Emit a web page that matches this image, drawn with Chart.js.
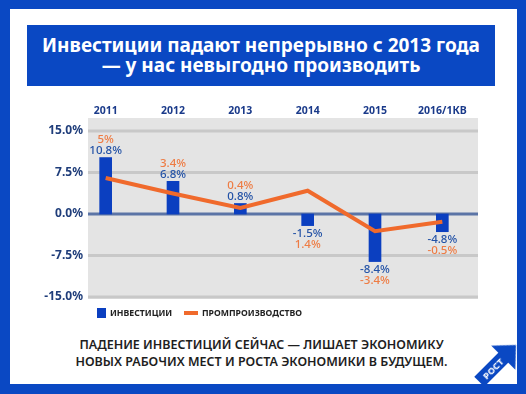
<!DOCTYPE html>
<html lang="ru">
<head>
<meta charset="UTF-8">
<title>Инвестиции и промпроизводство</title>
<script src="https://cdn.jsdelivr.net/npm/chart.js"></script>
<style>
  body { margin: 0; width: 526px; height: 394px; background: #0a48c3; position: relative; overflow: hidden; font-family: "Noto Sans", sans-serif; }
  #panel { position: absolute; left: 10px; top: 9px; width: 507px; height: 375px; background: #fff; }
  #title { position: absolute; left: 27px; top: 25px; width: 468px; height: 61px; background: #0a48c3; color: #fff;
           font-weight: 700; font-size: 19px; line-height: 20px; text-align: center; box-sizing: border-box; padding-top: 10px; }
  #wrap { position: absolute; left: 0; top: 95px; width: 526px; height: 215px; }
  .leg { position: absolute; top: 308px; font-size: 8.7px; font-weight: 700; color: #222; line-height: 10px; }
  #note { position: absolute; left: 10px; top: 336px; width: 503px; text-align: center; font-size: 12.5px; font-weight: 600;
          line-height: 17px; color: #1e1e1e; }
  #logo { position: absolute; left: 0; top: 0; }
</style>
</head>
<body>
<div id="panel"></div>
<div id="title">Инвестиции падают непрерывно с 2013 года<br>— у нас невыгодно производить</div>
<div id="wrap"><canvas id="grafico"></canvas></div>
<div class="leg" style="left:97px;"><span style="display:inline-block;width:9px;height:10px;background:#0b3fc0;vertical-align:top;"></span></div>
<div class="leg" style="left:110px;">ИНВЕСТИЦИИ</div>
<div class="leg" style="left:184px;"><span style="display:inline-block;width:14px;height:4px;background:#f06a2c;margin-top:3px;vertical-align:top;"></span></div>
<div class="leg" style="left:202px;">ПРОМПРОИЗВОДСТВО</div>
<div id="note">ПАДЕНИЕ ИНВЕСТИЦИЙ СЕЙЧАС — ЛИШАЕТ ЭКОНОМИКУ<br>НОВЫХ РАБОЧИХ МЕСТ И РОСТА ЭКОНОМИКИ В БУДУЩЕМ.</div>
<svg id="logo" width="526" height="394">
  <g transform="translate(516,345) rotate(-45)">
    <polygon points="0,0 -18,-17 -18,17" fill="#0a48c3"/>
    <rect x="-52" y="-7" width="37" height="14" fill="#0a48c3"/>
    <text x="-33" y="3.5" fill="#fff" font-size="9.5" font-weight="700" text-anchor="middle" font-family="Noto Sans">РОСТ</text>
  </g>
</svg>

<script>
  const anios = ["2011", "2012", "2013", "2014", "2015", "2016/1КВ"];
  // высота столбиков и точки линии, как нарисовано
  const inversiones = [10.2, 5.9, 1.9, -2.1, -8.6, -3.2];
  const produccion = [6.5, 3.7, 1.1, 4.2, -3.1, -1.4];
  // подписи, как на картинке
  const etiquetasInv = ["10.8%", "6.8%", "0.8%", "-1.5%", "-8.4%", "-4.8%"];
  const etiquetasProd = ["5%", "3.4%", "0.4%", "1.4%", "-3.4%", "-0.5%"];
  const ticksY = [15, 7.5, 0, -7.5, -15];

  const fondo = {
    id: 'fondo',
    beforeDatasetsDraw(chart) {
      const { ctx, chartArea, scales } = chart;
      const x0 = chartArea.left + 16, x1 = chartArea.right + 2;
      ctx.save();
      ctx.fillStyle = '#e4e4e4';
      ctx.fillRect(x0, chartArea.top - 13, x1 - x0, chartArea.bottom - chartArea.top + 15);
      ticksY.forEach(v => {
        const y = scales.y.getPixelForValue(v);
        ctx.strokeStyle = v === 0 ? '#5b74a6' : '#c8c8c8';
        ctx.lineWidth = 3;
        ctx.beginPath();
        ctx.moveTo(x0, y);
        ctx.lineTo(x1, y);
        ctx.stroke();
      });
      // подписи оси Y
      ctx.font = 'bold 12px "Noto Sans"';
      ctx.fillStyle = '#1f3d7a';
      ctx.textAlign = 'right';
      ctx.textBaseline = 'middle';
      ticksY.forEach(v => {
        ctx.fillText(v.toFixed(1) + '%', chartArea.left + 11, scales.y.getPixelForValue(v));
      });
      ctx.restore();
    }
  };

  const etiquetas = {
    id: 'etiquetas',
    afterDatasetsDraw(chart) {
      const { ctx } = chart;
      const barras = chart.getDatasetMeta(0).data;
      ctx.save();
      ctx.font = '500 11.5px "Noto Sans"';
      ctx.textAlign = 'center';
      ctx.textBaseline = 'middle';
      barras.forEach((b, i) => {
        const pos = inversiones[i] >= 0;
        const yInv = pos ? b.y - 7 : b.y + 8;
        const yProd = pos ? b.y - 18 : b.y + 19;
        ctx.fillStyle = '#2352a6';
        ctx.fillText(etiquetasInv[i], b.x, yInv);
        ctx.fillStyle = '#ee7c44';
        ctx.fillText(etiquetasProd[i], b.x, yProd);
      });
      ctx.restore();
    }
  };

  new Chart(document.getElementById('grafico'), {
    data: {
      labels: anios,
      datasets: [
        {
          type: 'bar',
          label: 'Инвестиции',
          data: inversiones,
          backgroundColor: '#0b3fc0',
          barThickness: 12,
          order: 1
        },
        {
          type: 'line',
          label: 'Промпроизводство',
          data: produccion,
          borderColor: '#f06a2c',
          borderWidth: 4,
          pointRadius: 0,
          tension: 0,
          order: 0
        }
      ]
    },
    options: {
      responsive: true,
      maintainAspectRatio: false,
      animation: false,
      layout: { padding: { left: 0, right: 50, top: 0, bottom: 13 } },
      plugins: { legend: { display: false }, tooltip: { enabled: false } },
      scales: {
        x: {
          position: 'top',
          offset: true,
          grid: { display: false, drawTicks: false },
          border: { display: false },
          ticks: { color: '#1a3a8a', font: { family: 'Noto Sans', size: 10.5, weight: 'bold' }, padding: 14, maxRotation: 0 },
          afterFit(scale) { scale.height = 36; }
        },
        y: {
          min: -15,
          max: 15,
          afterBuildTicks(scale) { scale.ticks = ticksY.map(v => ({ value: v })); },
          grid: { display: false, drawTicks: false },
          border: { display: false },
          ticks: { display: false },
          afterFit(scale) { scale.width = 72; }
        }
      }
    },
    plugins: [fondo, etiquetas]
  });
</script>
</body>
</html>
